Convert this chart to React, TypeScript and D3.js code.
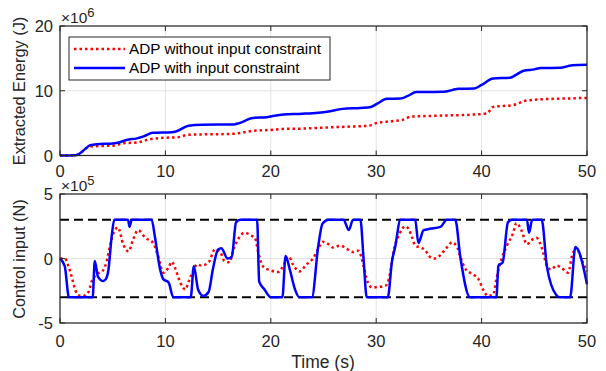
import * as d3 from "d3";

type Pt = [number, number];

// extracted energy, x10^6 J
const energyFree: Pt[] = [
  [0, 0], [1.5, 0.05], [2.9, 1.4], [5.2, 1.55], [6.0, 1.9], [7.3, 2.0], [8.5, 2.5],
  [10.1, 2.75], [11.1, 2.8], [12.2, 3.2], [16.4, 3.35], [18.3, 3.8], [20, 3.95],
  [21.2, 4.1], [23, 4.15], [25, 4.3], [27.2, 4.45], [29.3, 4.6], [30, 5.0], [31.5, 5.3],
  [32.5, 5.5], [33.3, 6.0], [35, 6.1], [37, 6.2], [39, 6.3], [40.5, 6.5], [41.1, 7.5],
  [43, 7.8], [44.3, 8.5], [46, 8.7], [48, 8.8], [50, 8.9],
];
const energyCon: Pt[] = [
  [0, 0], [1.5, 0.05], [2.9, 1.6], [3.5, 1.75], [5.0, 1.85], [5.6, 2.0], [6.3, 2.4],
  [7.3, 2.65], [8.0, 3.0], [8.8, 3.5], [10.6, 3.6], [11.0, 3.7], [12.2, 4.6], [13.5, 4.75],
  [16.5, 4.8], [17.0, 5.0], [18.3, 5.8], [19.6, 5.9], [20.2, 6.1], [21.2, 6.35], [23.0, 6.45],
  [24.5, 6.6], [25.5, 6.8], [26.8, 7.2], [28.5, 7.35], [29.5, 7.5], [30.1, 8.0], [31.0, 8.75],
  [32.3, 8.8], [33.0, 9.2], [33.8, 9.8], [36.4, 9.85], [37.2, 10.1], [37.8, 10.3],
  [39.3, 10.35], [40.0, 10.9], [41.1, 11.9], [42.7, 12.0], [43.3, 12.5], [44.0, 13.1],
  [45.0, 13.3], [45.6, 13.5], [47.5, 13.55], [48.2, 13.8], [48.6, 13.95], [50, 14.0],
];

// control input, x10^5 N
const inputFree: Pt[] = [
  [0, 0], [0.47, 0], [0.8, -0.6], [1.74, -2.85], [2.2, -2.9], [2.7, -2.6], [3.0, -1.8],
  [3.5, -1.2], [4.0, -1.0], [4.4, -0.3], [4.75, 1.0], [5.2, 2.2], [5.5, 2.4], [6.0, 1.1],
  [6.5, 0.55], [6.95, 1.5], [7.4, 2.2], [8.1, 1.6], [8.85, 1.2], [9.3, 0.2], [9.8, -1.1],
  [10.3, -0.7], [10.6, -0.25], [10.9, -0.7], [11.4, -1.85], [11.9, -2.4], [12.2, -1.8],
  [12.7, -0.85], [13.0, -0.45], [13.4, -0.55], [14.1, -0.3], [14.7, 0.7], [15.2, 0.5],
  [15.6, -0.2], [16.1, -0.3], [16.4, 0.55], [17.1, 1.75], [17.5, 2.0], [18.2, 1.75],
  [18.5, 1.6], [18.8, 0.5], [19.3, -0.65], [19.9, -0.9], [20.7, -1.05], [21.2, -0.55],
  [21.7, 0.15], [22.1, -0.45], [22.7, -1.0], [23.4, -0.45], [24.0, 0], [24.5, 0.75],
  [24.9, 1.3], [25.5, 1.1], [25.9, 0.85], [26.6, 1.0], [27.2, 0.75], [27.8, 0.5],
  [28.3, 0.6], [28.8, -0.55], [29.1, -1.6], [29.6, -2.25], [30.2, -2.2], [30.9, -2.1],
  [31.2, -1.6], [31.7, 0.75], [32.2, 1.9], [32.8, 2.5], [33.3, 1.9], [33.7, 1.0],
  [34.2, 0.85], [34.7, 0.6], [35.0, 0.2], [35.5, 0], [36.0, 0.2], [36.6, 0.75],
  [37.2, 1.25], [37.7, 0.85], [38.0, 0.1], [38.5, -0.85], [39.1, -1.2], [39.7, -1.6],
  [40.2, -2.5], [40.6, -2.9], [41.1, -2.8], [41.4, -1.6], [41.9, 0], [42.4, 1.0],
  [43.0, 2.0], [43.3, 2.75], [43.8, 2.15], [44.3, 1.1], [44.7, 1.4], [45.2, 1.6],
  [45.7, 0.85], [46.2, -0.55], [46.6, -0.85], [47.1, -0.55], [47.7, -0.8], [48.2, -1.1],
  [48.7, 0.5], [49.1, 0.6], [49.6, -0.3], [50, -1.0],
];
const inputCon: Pt[] = [
  [0, 0], [0.45, -0.6], [0.85, -3], [3.1, -3], [3.3, -0.2], [3.6, -1.4], [4.1, -1.75],
  [4.35, -1.6], [4.6, -0.85], [4.9, 1.7], [5.15, 3], [6.45, 3], [6.6, 2.45], [6.8, 3],
  [8.7, 3], [9.0, 1.7], [9.5, -0.85], [9.8, -1.6], [10.3, -1.85], [10.75, -3], [12.4, -3],
  [12.7, -0.6], [13.1, -2.4], [13.6, -2.9], [14.1, -2.6], [14.5, -0.85], [15.0, 0.7],
  [15.3, 0.8], [15.9, 0], [16.3, 0.15], [16.7, 2.8], [17.1, 3], [18.7, 3], [18.9, -1.8],
  [19.4, -2.4], [20.0, -3], [21.1, -3], [21.4, 0.2], [21.8, -0.85], [22.3, -2.4],
  [22.7, -3], [23.9, -3], [24.5, 0.95], [24.9, 2.7], [25.5, 3], [26.9, 3], [27.4, 2.2],
  [27.8, 3], [28.5, 3], [28.8, 0], [29.1, -3], [31.1, -3], [31.5, -0.2], [31.8, 0.9],
  [32.3, 3], [33.7, 3], [34.0, 1.2], [34.5, 2.2], [35.1, 2.3], [36.1, 2.45], [36.7, 3],
  [37.5, 3], [38.0, 0], [38.9, -3], [41.4, -3], [41.6, -0.55], [42.0, -0.3], [42.5, 2.8],
  [42.9, 3], [44.3, 3], [44.5, 2.0], [44.8, 3], [45.7, 3], [46.2, -0.65], [47.1, -2.85],
  [47.4, -3], [48.4, -3], [48.9, 0.9], [49.2, 0.6], [50, -2.0],
];

const inputLimits = [3, -3];
const xTicks = [0, 10, 20, 30, 40, 50];
const energyTicks = [0, 10, 20];
const inputTicks = [-5, 0, 5];
const legendLabels = ["ADP without input constraint", "ADP with input constraint"];

const FONT = "'Liberation Sans', Arial, Helvetica, sans-serif";
const AX = "#262626";
const GRID = "#e3e3e3";
const RED = "#ff0000";
const BLUE = "#0000ff";

const x = d3.scaleLinear().domain([0, 50]).range([60, 587]);
const yE = d3.scaleLinear().domain([0, 20]).range([155.5, 26]);
const yU = d3.scaleLinear().domain([-5, 5]).range([323, 194]);

const mkLine = (y: d3.ScaleLinear<number, number>) =>
  d3
    .line<Pt>()
    .x((d) => x(d[0]))
    .y((d) => y(d[1]))
    .curve(d3.curveMonotoneX);

function Grid({ y, yTicks }: { y: d3.ScaleLinear<number, number>; yTicks: number[] }) {
  const [y0, y1] = y.range();
  const [x0, x1] = x.range();
  return (
    <g>
      {xTicks.map((t) => (
        <line key={"gx" + t} x1={x(t)} x2={x(t)} y1={y0} y2={y1} stroke={GRID} />
      ))}
      {yTicks.map((t) => (
        <line key={"gy" + t} x1={x0} x2={x1} y1={y(t)} y2={y(t)} stroke={GRID} />
      ))}
    </g>
  );
}

function Axes({
  y,
  yTicks,
  exp,
  label,
  labelY,
  tickLabelY,
}: {
  y: d3.ScaleLinear<number, number>;
  yTicks: number[];
  exp: string;
  label: string;
  labelY: number;
  tickLabelY: number;
}) {
  const [y0, y1] = y.range();
  const [x0, x1] = x.range();
  return (
    <g fontFamily={FONT} fill={AX}>
      <rect x={x0} y={y1} width={x1 - x0} height={y0 - y1} fill="none" stroke={AX} strokeWidth={1.2} />
      {xTicks.map((t) => (
        <g key={"tx" + t}>
          <line x1={x(t)} x2={x(t)} y1={y0} y2={y0 - 5} stroke={AX} />
          <line x1={x(t)} x2={x(t)} y1={y1} y2={y1 + 5} stroke={AX} />
          <text x={x(t)} y={tickLabelY} fontSize={16.5} textAnchor="middle">
            {t}
          </text>
        </g>
      ))}
      {yTicks.map((t) => (
        <g key={"ty" + t}>
          <line x1={x0} x2={x0 + 5} y1={y(t)} y2={y(t)} stroke={AX} />
          <line x1={x1} x2={x1 - 5} y1={y(t)} y2={y(t)} stroke={AX} />
          <text x={53} y={y(t) + 6} fontSize={16.5} textAnchor="end">
            {t}
          </text>
        </g>
      ))}
      <text x={61} y={y1 - 3} fontSize={15.5}>
        ×10
        <tspan fontSize={13} dy={-6}>
          {exp}
        </tspan>
      </text>
      <text
        transform={`translate(24.5,${labelY}) rotate(-90)`}
        fontSize={16.3}
        textAnchor="middle"
      >
        {label}
      </text>
    </g>
  );
}

export default function App() {
  const lineE = mkLine(yE);
  const lineU = mkLine(yU);
  return (
    <svg
      width={606}
      height={371}
      style={{ position: "absolute", left: 0, top: 0, background: "#fff" }}
    >
      <Grid y={yE} yTicks={energyTicks} />
      <Grid y={yU} yTicks={inputTicks} />

      <path d={lineE(energyFree) ?? ""} fill="none" stroke={RED} strokeWidth={2.5} strokeDasharray="2.5 3" />
      <path d={lineE(energyCon) ?? ""} fill="none" stroke={BLUE} strokeWidth={2.5} />

      {inputLimits.map((v) => (
        <line
          key={v}
          x1={x(0)}
          x2={x(50)}
          y1={yU(v)}
          y2={yU(v)}
          stroke="#000"
          strokeWidth={2}
          strokeDasharray="9 5"
        />
      ))}
      <path d={lineU(inputFree) ?? ""} fill="none" stroke={RED} strokeWidth={2.5} strokeDasharray="2.5 3" />
      <path d={lineU(inputCon) ?? ""} fill="none" stroke={BLUE} strokeWidth={2.5} />

      <Axes
        y={yE}
        yTicks={energyTicks}
        exp="6"
        label="Extracted Energy (J)"
        labelY={91}
        tickLabelY={176.5}
      />
      <Axes
        y={yU}
        yTicks={inputTicks}
        exp="5"
        label="Control input (N)"
        labelY={259}
        tickLabelY={347}
      />
      <text x={323} y={368} fontFamily={FONT} fontSize={17.5} fill={AX} textAnchor="middle">
        Time (s)
      </text>

      <g fontFamily={FONT} fill="#000">
        <rect x={69} y={37} width={261} height={43} fill="#fff" stroke={AX} strokeWidth={1} />
        <line x1={74} x2={125} y1={49} y2={49} stroke={RED} strokeWidth={2.5} strokeDasharray="2.5 3" />
        <line x1={74} x2={125} y1={68} y2={68} stroke={BLUE} strokeWidth={2.5} />
        <text x={129} y={54} fontSize={15.3}>
          {legendLabels[0]}
        </text>
        <text x={129} y={73} fontSize={15.3}>
          {legendLabels[1]}
        </text>
      </g>
    </svg>
  );
}
